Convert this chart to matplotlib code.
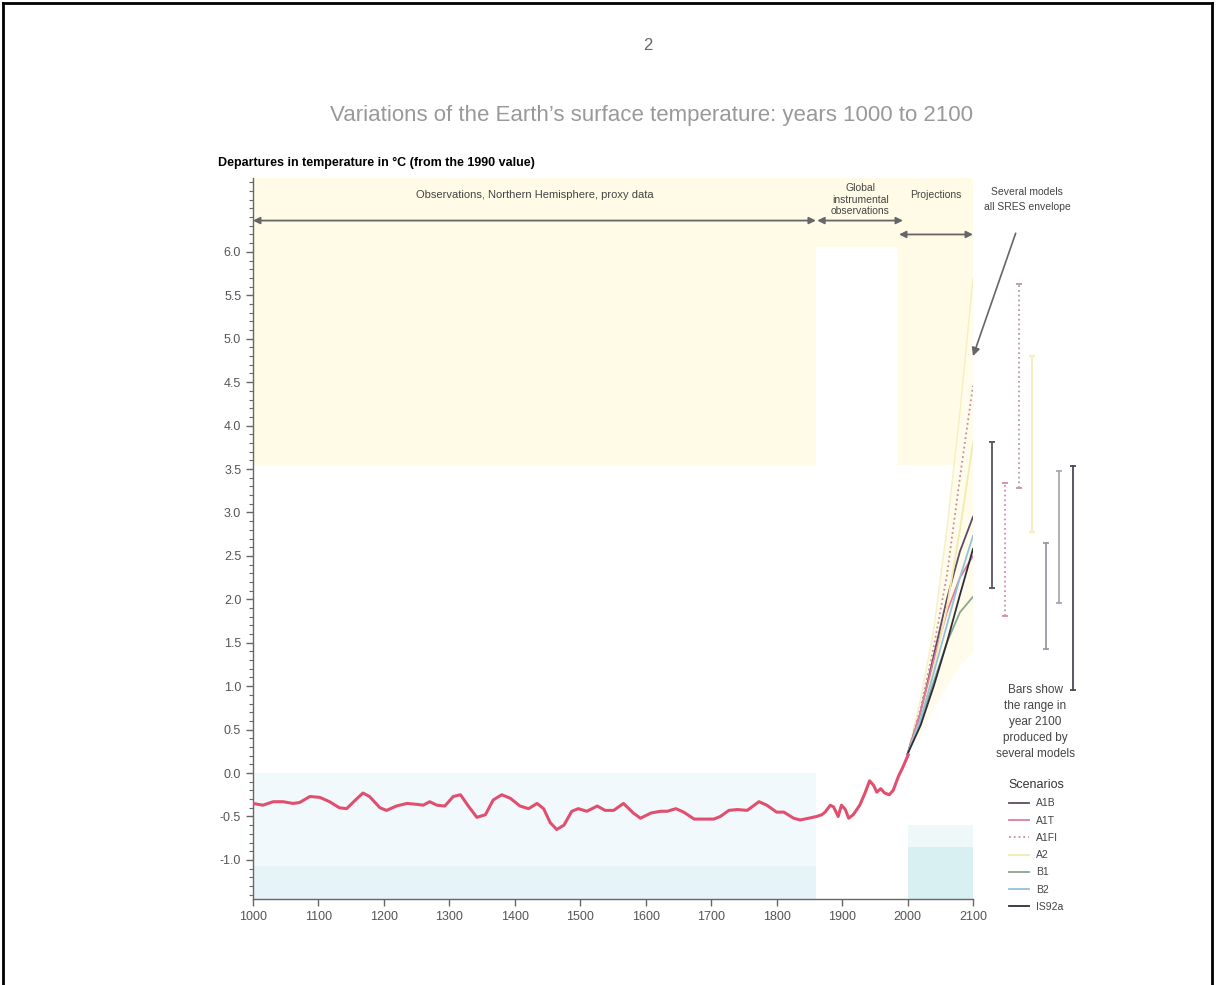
import matplotlib
matplotlib.use('Agg')
import matplotlib.pyplot as plt
from matplotlib.lines import Line2D
from matplotlib.ticker import MultipleLocator

plt.rcParams['font.family'] = ['Liberation Sans', 'DejaVu Sans']

# Reconstructed northern hemisphere record (proxy + instrumental)
hist_years = [1000, 1015, 1031, 1046, 1061, 1071, 1087, 1102, 1117, 1132, 1143, 1158, 1168, 1178,
              1194, 1204, 1219, 1235, 1250, 1260, 1270, 1281, 1293, 1306, 1317, 1329, 1342, 1355,
              1367, 1380, 1393, 1408, 1421, 1434, 1444, 1454, 1464, 1475, 1487, 1497, 1510, 1526,
              1538, 1551, 1566, 1581, 1592, 1608, 1623, 1633, 1646, 1658, 1674, 1689, 1704, 1714,
              1727, 1740, 1755, 1773, 1785, 1800, 1811, 1826, 1836, 1849, 1861, 1869, 1874, 1882,
              1887, 1894, 1899, 1905, 1910, 1917, 1927, 1935, 1942, 1948, 1953, 1959, 1965, 1972,
              1978, 1986, 1993, 2001]
hist_vals = [-0.35, -0.37, -0.33, -0.33, -0.35, -0.34, -0.27, -0.28, -0.33, -0.40, -0.41, -0.30,
             -0.23, -0.27, -0.40, -0.43, -0.38, -0.35, -0.36, -0.37, -0.33, -0.37, -0.38, -0.27,
             -0.25, -0.38, -0.51, -0.48, -0.31, -0.25, -0.29, -0.38, -0.41, -0.35, -0.41, -0.57,
             -0.65, -0.60, -0.44, -0.41, -0.44, -0.38, -0.43, -0.43, -0.35, -0.46, -0.52, -0.46,
             -0.44, -0.44, -0.41, -0.45, -0.53, -0.53, -0.53, -0.50, -0.43, -0.42, -0.43, -0.33,
             -0.37, -0.45, -0.45, -0.52, -0.54, -0.52, -0.50, -0.48, -0.45, -0.37, -0.39, -0.50,
             -0.37, -0.42, -0.52, -0.48, -0.37, -0.23, -0.09, -0.14, -0.22, -0.18, -0.23, -0.25,
             -0.20, -0.04, 0.07, 0.21]

# Projections
proj_years = [2000, 2020, 2040, 2060, 2080, 2100]
a1b = [0.22, 0.70, 1.35, 2.00, 2.55, 2.95]
a1t = [0.22, 0.70, 1.30, 1.85, 2.25, 2.50]
a1fi = [0.22, 0.75, 1.45, 2.27, 3.40, 4.46]
a2 = [0.22, 0.62, 1.20, 1.90, 2.80, 3.80]
b1 = [0.22, 0.60, 1.05, 1.50, 1.85, 2.03]
b2 = [0.22, 0.62, 1.15, 1.70, 2.25, 2.73]
is92a = [0.22, 0.55, 1.00, 1.50, 2.05, 2.58]
env_upper = [0.22, 0.85, 1.65, 2.80, 4.15, 5.70]
env_lower = [0.22, 0.45, 0.75, 1.00, 1.25, 1.40]

scenarios = ['A1B', 'A1T', 'A1FI', 'A2', 'B1', 'B2', 'IS92a']
scen_vals = [a1b, a1t, a1fi, a2, b1, b2, is92a]

# range of models in 2100
bar_lo = [2.13, 1.81, 3.28, 2.77, 1.43, 1.96, 0.96]
bar_hi = [3.81, 3.34, 5.63, 4.80, 2.65, 3.48, 3.54]

x_ticks = list(range(1000, 2101, 100))
y_ticks = [-1.0, -0.5, 0.0, 0.5, 1.0, 1.5, 2.0, 2.5, 3.0, 3.5, 4.0, 4.5, 5.0, 5.5, 6.0]

colors = ['#5e4a62', '#e57a9c', '#c98a9c', '#f3eab0', '#8aa690', '#92c3dc', '#2e2e3a']
styles = ['-', '-', ':', '-', '-', '-', '-']
bar_styles = ['-', ':', ':', '-', '-', '-', '-']
bar_colors = ['#555560', '#d98aa4', '#b89aa8', '#f5eebb', '#9a9aa4', '#a8a8b8', '#4a4a55']

yellow = '#fffbe6'
grey = '#555555'
txt = '#444444'

fig = plt.figure(figsize=(12.17, 9.85), dpi=100)
W, H = 1217, 985
ax = fig.add_axes([253 / W, 1 - 899 / H, (973 - 253) / W, (899 - 178) / H])
ax.set_xlim(1000, 2100)
ax.set_ylim(-1.45, 6.85)

# background bands
ax.fill_between([1000, 1860], 3.55, 6.85, color=yellow, lw=0, zorder=0)
ax.fill_between([1860, 1985], 6.05, 6.85, color=yellow, lw=0, zorder=0)
ax.fill_between([1985, 2100], 3.55, 6.85, color=yellow, lw=0, zorder=0)
ax.fill_between([1000, 1860], -1.45, 0.0, color='#f2f9fc', lw=0, zorder=0)
ax.fill_between([1000, 1860], -1.45, -1.07, color='#e6f4f9', lw=0, zorder=0)
ax.fill_between([2000, 2100], -0.85, -0.6, color='#eef8f9', lw=0, zorder=0)
ax.fill_between([2000, 2100], -1.45, -0.85, color='#d9f0f3', lw=0, zorder=0)

# SRES envelope
ax.fill_between(proj_years, env_lower, env_upper, color='#fffcec', lw=0, zorder=1)
ax.plot(proj_years, env_upper, color='#f6efc0', lw=1.0, zorder=1)

# projections
handles = []
for name, vals, c, ls in zip(scenarios, scen_vals, colors, styles):
    ln, = ax.plot(proj_years, vals, color=c, ls=ls, lw=1.3, label=name, zorder=3)
    handles.append(ln)

# observed record
ax.plot(hist_years, hist_vals, color='#e0506e', lw=2.2, solid_joinstyle='round', zorder=4)

# model range bars beyond 2100
for i in range(len(scenarios)):
    bx = 2129 + 20.6 * i
    ax.plot([bx, bx], [bar_lo[i], bar_hi[i]], color=bar_colors[i], ls=bar_styles[i], lw=1.3,
            clip_on=False, zorder=3)
    ax.plot([bx, bx], [bar_lo[i], bar_hi[i]], color=bar_colors[i], ls='none', marker='_',
            ms=5, mew=1.3, clip_on=False, zorder=3)

# axes styling
for s in ['top', 'right']:
    ax.spines[s].set_visible(False)
for s in ['left', 'bottom']:
    ax.spines[s].set_color('#666666')
    ax.spines[s].set_linewidth(1.0)
ax.set_xticks(x_ticks)
ax.set_yticks(y_ticks)
ax.set_yticklabels(['%.1f' % v for v in y_ticks])
ax.yaxis.set_minor_locator(MultipleLocator(0.1))
ax.tick_params(axis='both', which='major', colors='#666666', labelcolor=grey,
               labelsize=9, length=5, width=1)
ax.tick_params(axis='y', which='minor', colors='#666666', length=3, width=0.8)
ax.set_facecolor('none')

# header arrows
arr = dict(arrowstyle='<|-|>', color='#666666', lw=1.3, mutation_scale=10, shrinkA=0, shrinkB=0)
ax.annotate('', xy=(1000, 6.36), xytext=(1860, 6.36), arrowprops=arr, annotation_clip=False)
ax.annotate('', xy=(1862, 6.36), xytext=(1993, 6.36), arrowprops=arr, annotation_clip=False)
ax.annotate('', xy=(1987, 6.2), xytext=(2100, 6.2), arrowprops=arr, annotation_clip=False)

ax.text(1431, 6.66, 'Observations, Northern Hemisphere, proxy data', ha='center', va='center',
        fontsize=8, color=txt)
ax.text(1928, 6.6, 'Global\ninstrumental\nobservations', ha='center', va='center',
        fontsize=7.5, color=txt, linespacing=1.2)
ax.text(2043, 6.66, 'Projections', ha='center', va='center', fontsize=7.5, color=txt)
ax.annotate('Several models\nall SRES envelope', xy=(2100, 4.8), xytext=(2183, 6.6),
            ha='center', va='center', fontsize=7.5, color=txt, linespacing=1.6,
            annotation_clip=False,
            arrowprops=dict(arrowstyle='-|>', color='#666666', lw=1.2, mutation_scale=12,
                            shrinkA=14, shrinkB=0))

fig.text(1035 / W, 1 - 722 / H, 'Bars show\nthe range in\nyear 2100\nproduced by\nseveral models',
         ha='center', va='center', fontsize=8.5, color=txt, linespacing=1.45)

leg = ax.legend(handles=handles, title='Scenarios', loc='upper left',
                bbox_to_anchor=(1008 / W, 1 - 779 / H), bbox_transform=fig.transFigure,
                frameon=False, fontsize=7.5, title_fontsize=9, labelspacing=0.7,
                handlelength=1.9, handletextpad=0.7, borderpad=0, borderaxespad=0)
for t in leg.get_texts():
    t.set_color(txt)
leg.get_title().set_color('#333333')

# titles
fig.text(218 / W, 1 - 163 / H, 'Departures in temperature in °C (from the 1990 value)',
         ha='left', va='center', fontsize=9, fontweight='bold', color='black')
fig.text(651 / W, 1 - 115 / H, 'Variations of the Earth\u2019s surface temperature: years 1000 to 2100',
         ha='center', va='center', fontsize=16, color='#999999')
fig.text(648 / W, 1 - 45 / H, '2', ha='center', va='center', fontsize=12, color='#666666')

# page frame
for xs, ys in [([3, 3], [0, H - 3]), ([3, 1212], [H - 3, H - 3]), ([1212, 1212], [0, H - 3])]:
    fig.add_artist(Line2D([x / W for x in xs], [y / H for y in ys], color='black', lw=2.0))

fig.savefig('out.png', dpi=100, facecolor='white')
